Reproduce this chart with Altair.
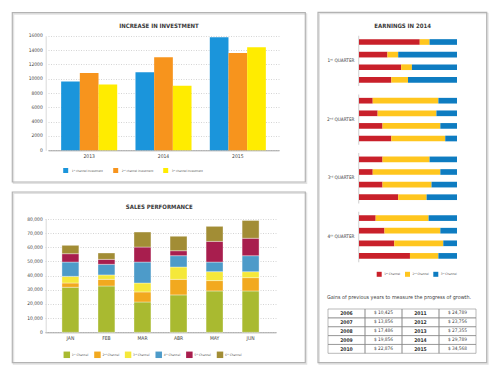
import altair as alt
import pandas as pd

FONT = "DejaVu Sans Condensed, Liberation Sans Narrow, sans-serif"
W, H = 500, 375

# ---------------- data ----------------
inv_years = ["2013", "2014", "2015"]
inv_channels = ["1ˢᵗ channel investment", "2ⁿᵈ channel investment", "3ʳᵈ channel investment"]
inv_ch1 = [9600, 10900, 15800]
inv_ch2 = [10800, 13000, 13600]
inv_ch3 = [9200, 9000, 14400]
inv_colors = ["#1B95DB", "#F7941D", "#FFEC00"]
inv_ticks = [0, 2000, 4000, 6000, 8000, 10000, 12000, 14000, 16000]

sales_months = ["JAN", "FEB", "MAR", "ABR", "MAY", "JUN"]
sales_channels = ["1ˢᵗ Channel", "2ⁿᵈ Channel", "3ʳᵈ Channel", "4ᵗʰ Channel", "5ᵗʰ Channel", "6ᵗʰ Channel"]
sales_ch1 = [31800, 32700, 21400, 26400, 29200, 29200]
sales_ch2 = [3000, 4700, 7100, 11000, 7300, 9400]
sales_ch3 = [4700, 3100, 6300, 8700, 6300, 4200]
sales_ch4 = [10100, 7500, 14800, 8000, 6800, 11300]
sales_ch5 = [5900, 3500, 10600, 3500, 14600, 12300]
sales_ch6 = [5900, 4500, 10600, 10200, 10600, 12600]
sales_colors = ["#A9BA30", "#F2A91F", "#F5E83A", "#4D9BC9", "#A81E4E", "#A28D35"]
sales_ticks = [0, 10000, 20000, 30000, 40000, 50000, 60000, 70000, 80000]

earn_quarters = ["1ˢᵗ QUARTER", "2ⁿᵈ QUARTER", "3ʳᵈ QUARTER", "4ᵗʰ QUARTER"]
earn_rows = ["a", "b", "c", "d"]
earn_channels = ["1ˢᵗ Channel", "2ⁿᵈ Channel", "3ʳᵈ Channel"]
earn_ch1 = [62, 29, 43, 33, 14, 19, 24, 33, 24, 14, 24, 40, 17, 26, 36, 52]
earn_ch2 = [10, 11, 11, 17, 67, 60, 59, 55, 48, 69, 50, 29, 54, 57, 50, 29]
earn_ch3 = [28, 60, 46, 50, 19, 21, 17, 12, 28, 17, 26, 31, 29, 17, 14, 19]
earn_colors = ["#C9202A", "#FFC61E", "#0E7CC1"]

gain_years_a = ["2006", "2007", "2008", "2009", "2010"]
gain_vals_a = ["$ 10,425", "$ 13,856", "$ 17,486", "$ 19,856", "$ 22,876"]
gain_years_b = ["2011", "2012", "2013", "2014", "2015"]
gain_vals_b = ["$ 24,789", "$ 23,756", "$ 27,355", "$ 29,789", "$ 34,568"]

# ---------------- tables ----------------
one = pd.DataFrame({"k": [0]})

inv_rows = []
for ci, (c, vals) in enumerate(zip(inv_channels, [inv_ch1, inv_ch2, inv_ch3])):
    for y, v in zip(inv_years, vals):
        inv_rows.append({"year": y, "channel": c, "value": v})
inv_df = pd.DataFrame(inv_rows)

sales_rows = []
for ci, (c, vals) in enumerate(zip(sales_channels, [sales_ch1, sales_ch2, sales_ch3, sales_ch4, sales_ch5, sales_ch6])):
    for m, v in zip(sales_months, vals):
        sales_rows.append({"month": m, "channel": c, "value": v, "idx": ci})
sales_df = pd.DataFrame(sales_rows)

earn_data = []
for ci, (c, vals) in enumerate(zip(earn_channels, [earn_ch1, earn_ch2, earn_ch3])):
    for i, v in enumerate(vals):
        earn_data.append({"quarter": earn_quarters[i // 4], "row": earn_rows[i % 4],
                          "channel": c, "value": v, "idx": ci})
earn_df = pd.DataFrame(earn_data)

tab_rows = []
cols = ["c0", "c1", "c2", "c3"]
rows = ["r0", "r1", "r2", "r3", "r4"]
for i in range(5):
    tab_rows.append({"col": "c0", "row": rows[i], "text": gain_years_a[i], "kind": "year"})
    tab_rows.append({"col": "c1", "row": rows[i], "text": gain_vals_a[i], "kind": "val"})
    tab_rows.append({"col": "c2", "row": rows[i], "text": gain_years_b[i], "kind": "year"})
    tab_rows.append({"col": "c3", "row": rows[i], "text": gain_vals_b[i], "kind": "val"})
tab_df = pd.DataFrame(tab_rows)


# ---------------- helpers ----------------
def frame(x1, y1, x2, y2):
    shadow = alt.Chart(one).mark_rect(fillOpacity=0, stroke="#e2e2e2", strokeWidth=1.5).encode(
        x=alt.value(x1 + 1.2), x2=alt.value(x2 + 1.2), y=alt.value(y1 + 1.2), y2=alt.value(y2 + 1.2))
    box = alt.Chart(one).mark_rect(fillOpacity=0, stroke="#b3b3b3", strokeWidth=1.2).encode(
        x=alt.value(x1), x2=alt.value(x2), y=alt.value(y1), y2=alt.value(y2))
    return [shadow, box]


def text_at(s, x, y, size, weight="normal", align="center", color="#333333"):
    return alt.Chart(one).mark_text(text=s, fontSize=size, fontWeight=weight, font=FONT,
                                    align=align, baseline="middle", color=color).encode(
        x=alt.value(x), y=alt.value(y))


def legend(names, colors, x0, x1, y, size, fsize, dx):
    sc = alt.Scale(type="point", domain=names, range=[x0, x1], padding=0)
    sq = alt.Chart(pd.DataFrame({"name": names})).mark_square(size=size, opacity=1).encode(
        x=alt.X("name:N", scale=sc, axis=None),
        y=alt.value(y),
        color=alt.Color("name:N", scale=alt.Scale(domain=names, range=colors), legend=None))
    tx = alt.Chart(pd.DataFrame({"name": names})).mark_text(
        align="left", baseline="middle", dx=dx, fontSize=fsize, font=FONT, color="#555555").encode(
        x=alt.X("name:N", scale=sc, axis=None),
        y=alt.value(y),
        text="name:N")
    return [sq, tx]


def yaxis(ticks, fmt, offset):
    return alt.Axis(orient="left", offset=offset, values=ticks, format=fmt, title=None, ticks=False,
                    domainColor="#cfcfcf", domainWidth=0.8, grid=True, gridDash=[1, 1.5],
                    gridColor="#b8b8b8", gridWidth=0.6, labelFontSize=4.9, labelFont=FONT,
                    labelColor="#444444", labelPadding=3.5)


def xaxis(offset):
    return alt.Axis(orient="bottom", offset=offset, title=None, labelAngle=0, ticks=False,
                    domainColor="#9a9a9a", domainWidth=0.9, grid=False, labelFontSize=5.0,
                    labelFont=FONT, labelColor="#444444", labelPadding=3)


layers = []

# frames
layers += frame(12.3, 12.7, 305.3, 182)
layers += frame(12.3, 192, 305.3, 362.7)
layers += frame(318, 12.3, 486.7, 362.7)

# ---------------- investment ----------------
layers.append(text_at("INCREASE IN INVESTMENT", 159, 25.5, 6.0, weight="bold", color="#3a3a3a"))
inv_bars = alt.Chart(inv_df).mark_bar().encode(
    x=alt.X("year:N", scale=alt.Scale(domain=inv_years, range=[48, 279], paddingInner=0.246, paddingOuter=0.177),
            axis=xaxis(150.3 - H)),
    xOffset=alt.XOffset("channel:N", scale=alt.Scale(domain=inv_channels, paddingInner=0, paddingOuter=0)),
    y=alt.Y("value:Q", scale=alt.Scale(domain=[0, 16000], range=[150.3, 35.7], nice=False),
            axis=yaxis(inv_ticks, "d", -45.7)),
    color=alt.Color("channel:N", scale=alt.Scale(domain=inv_channels, range=inv_colors), legend=None),
)
layers.append(inv_bars)
layers += legend(inv_channels, inv_colors, 65.7, 165.7, 170.5, 25, 3.0, 6)

# ---------------- sales ----------------
layers.append(text_at("SALES PERFORMANCE", 159.3, 207.3, 6.0, weight="bold", color="#3a3a3a"))
sales_bars = alt.Chart(sales_df).mark_bar(stroke="#ffffff", strokeWidth=0.5, strokeOpacity=0.7).encode(
    x=alt.X("month:N", scale=alt.Scale(domain=sales_months, range=[45, 276], paddingInner=0.53, paddingOuter=0.47),
            axis=xaxis(332.3 - H)),
    y=alt.Y("value:Q", stack="zero", scale=alt.Scale(domain=[0, 80000], range=[332.3, 219], nice=False),
            axis=yaxis(sales_ticks, ",d", -45.7)),
    color=alt.Color("channel:N", scale=alt.Scale(domain=sales_channels, range=sales_colors), legend=None),
    order=alt.Order("idx:Q"),
)
layers.append(sales_bars)
layers += legend(sales_channels, sales_colors, 66.8, 220, 354.8, 42, 3.2, 5)

# ---------------- earnings ----------------
layers.append(text_at("EARNINGS IN 2014", 402.7, 25.7, 6.0, weight="bold", color="#3a3a3a"))
earn_scale_y = alt.Scale(domain=earn_quarters, range=[35.7, 262.2], paddingInner=0.141, paddingOuter=0)
earn_lines = alt.Chart(pd.DataFrame({"quarter": earn_quarters})).mark_rect(color="#c4c4c4").encode(
    y=alt.Y("quarter:N", scale=earn_scale_y, axis=None),
    x=alt.value(358.4), x2=alt.value(359.2),
)
layers.append(earn_lines)
earn_bars = alt.Chart(earn_df).mark_bar().encode(
    y=alt.Y("quarter:N", scale=earn_scale_y,
            axis=alt.Axis(orient="left", offset=-359, title=None, ticks=False, domain=False, grid=False,
                          labelFontSize=4.7, labelFont=FONT, labelColor="#444444", labelPadding=5)),
    yOffset=alt.YOffset("row:N", scale=alt.Scale(domain=earn_rows, paddingInner=0.55, paddingOuter=0.275)),
    x=alt.X("value:Q", stack="zero", scale=alt.Scale(domain=[0, 100], range=[359, 457], nice=False), axis=None),
    color=alt.Color("channel:N", scale=alt.Scale(domain=earn_channels, range=earn_colors), legend=None),
    order=alt.Order("idx:Q"),
)
layers.append(earn_bars)
layers += legend(earn_channels, earn_colors, 379.2, 435.8, 274.3, 25, 3.1, 5)

# ---------------- gains table ----------------
layers.append(text_at("Gains of previous years to measure the progress of growth.", 399, 296.5, 5.4,
                      color="#444444"))
tx_scale = alt.Scale(domain=cols, range=[328, 476], paddingInner=0, paddingOuter=0)
ty_scale = alt.Scale(domain=rows, range=[309, 353.3], paddingInner=0, paddingOuter=0)
cells = alt.Chart(tab_df).mark_rect(fillOpacity=0, stroke="#8a8a8a", strokeWidth=0.6).encode(
    x=alt.X("col:N", scale=tx_scale, axis=None),
    y=alt.Y("row:N", scale=ty_scale, axis=None),
)
layers.append(cells)
years_txt = alt.Chart(tab_df).transform_filter(alt.datum.kind == "year").mark_text(
    fontSize=5.0, fontWeight="bold", font=FONT, color="#333333", baseline="middle").encode(
    x=alt.X("col:N", scale=tx_scale, axis=None),
    y=alt.Y("row:N", scale=ty_scale, axis=None),
    text="text:N",
)
vals_txt = alt.Chart(tab_df).transform_filter(alt.datum.kind == "val").mark_text(
    fontSize=4.8, font=FONT, color="#444444", baseline="middle").encode(
    x=alt.X("col:N", scale=tx_scale, axis=None),
    y=alt.Y("row:N", scale=ty_scale, axis=None),
    text="text:N",
)
layers += [years_txt, vals_txt]

chart = alt.layer(*layers).properties(
    width=W, height=H, autosize=alt.AutoSizeParams(type="none"), padding=0, background="white"
).resolve_scale(
    x="independent", y="independent", color="independent"
).resolve_axis(
    x="independent", y="independent"
).resolve_legend(
    color="independent"
).configure_view(stroke="transparent")

chart.save("out.html", embed_options={"renderer": "svg", "actions": False})
